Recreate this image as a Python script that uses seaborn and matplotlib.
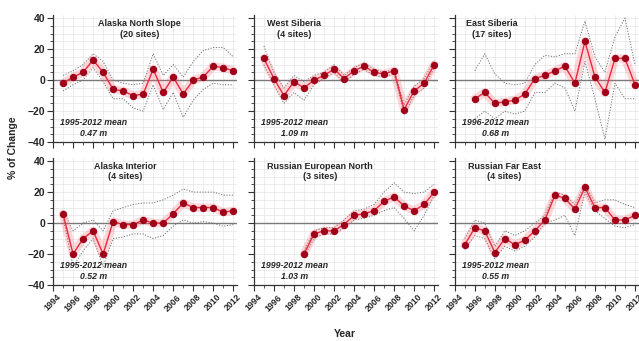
import matplotlib
matplotlib.use('Agg')
import matplotlib.pyplot as plt
from matplotlib.ticker import MultipleLocator
import seaborn as sns
import pandas as pd

# ---- data (percent change of active layer thickness) ----
titles = ['Alaska North Slope\n(20 sites)', 'West Siberia\n(4 sites)', 'East Siberia\n(17 sites)',
          'Alaska Interior\n(4 sites)', 'Russian European North\n(3 sites)', 'Russian Far East\n(4 sites)']
notes = ['1995-2012 mean\n0.47 m', '1995-2012 mean\n1.09 m', '1996-2012 mean\n0.68 m',
         '1995-2012 mean\n0.52 m', '1999-2012 mean\n1.03 m', '1995-2012 mean\n0.55 m']
first_year = [1995, 1995, 1996, 1995, 1999, 1995]

ans_mean = [-2, 2, 5, 13, 5, -6, -7, -10, -9, 7, -8, 2, -9, 0, 2, 9, 8, 6]
ans_up = [3, 6, 10, 17, 12, 0, -2, -3, -2, 17, 3, 10, 2, 12, 19, 21, 21, 15]
ans_lo = [-7, -3, 0, 8, -1, -12, -12, -18, -20, -3, -19, -8, -24, -13, -6, -2, -3, -3]

ws_mean = [14, 1, -10, -1, -5, 0, 3, 7, 1, 6, 9, 5, 4, 6, -19, -7, -2, 10]
ws_up = [22, 5, -5, 3, -1, 3, 5, 10, 3, 8, 11, 7, 5, 7, -16, -4, 1, 13]
ws_lo = [10, -3, -15, -8, -13, -3, 1, 5, -2, 4, 7, 3, 2, 4, -22, -10, -5, 8]

es_mean = [-12, -8, -15, -14, -13, -9, 1, 3, 6, 9, -2, 25, 2, -8, 14, 14, -3]
es_up = [6, 17, 4, -2, -3, -2, 10, 16, 15, 17, 17, 38, 15, 5, 28, 40, 10]
es_lo = [-25, -20, -25, -20, -22, -20, -8, -8, -2, -5, -20, 12, -12, -38, -2, -12, -12]

ai_mean = [6, -20, -10, -5, -20, 1, -1, -1, 2, 0, 0, 6, 13, 10, 10, 10, 7, 8]
ai_up = [8, -5, 0, 2, -5, 8, 10, 12, 13, 13, 15, 18, 22, 20, 20, 20, 18, 18]
ai_lo = [4, -28, -18, -10, -28, -10, -9, -7, -7, -10, -8, -2, 2, 0, 1, 0, -2, -1]

ren_mean = [-20, -7, -5, -5, -1, 5, 6, 8, 14, 17, 11, 8, 12, 20]
ren_up = [-18, -5, -3, -3, 2, 8, 9, 12, 20, 26, 20, 19, 20, 25]
ren_lo = [-22, -10, -7, -7, -3, 2, 3, 5, 8, 10, 3, -5, 5, 18]

rfe_mean = [-14, -3, -5, -19, -10, -14, -11, -5, 2, 18, 16, 9, 23, 10, 10, 2, 2, 5]
rfe_up = [-10, 2, 0, -15, -5, -8, -5, 0, 5, 20, 18, 12, 25, 13, 15, 15, 12, 10]
rfe_lo = [-17, -8, -10, -23, -15, -18, -15, -9, 0, 2, 5, -8, 20, 8, 3, -2, -3, -1]

means = [ans_mean, ws_mean, es_mean, ai_mean, ren_mean, rfe_mean]
uppers = [ans_up, ws_up, es_up, ai_up, ren_up, rfe_up]
lowers = [ans_lo, ws_lo, es_lo, ai_lo, ren_lo, rfe_lo]

year_ticks = list(range(1994, 2013, 2))

# ---- styling ----
sns.set_style('white')
plt.rcParams['font.family'] = ['Liberation Sans', 'DejaVu Sans']
plt.rcParams['font.weight'] = 'bold'

title_x = [0.47, 0.22, 0.20, 0.39, 0.36, 0.27]

fig, axes = plt.subplots(2, 3, figsize=(6.39, 3.41), dpi=100)
fig.subplots_adjust(left=0.083, right=1.0, top=0.956, bottom=0.164, wspace=0.09, hspace=0.125)

for i, ax in enumerate(axes.flat):
    yrs = list(range(first_year[i], 2013))
    df = pd.DataFrame({'year': yrs, 'mean': means[i], 'up': uppers[i], 'lo': lowers[i]})

    ax.axhline(0, color='#7a7a7a', lw=1.0, zorder=1)
    sns.lineplot(data=df, x='year', y='up', ax=ax, color='#707070', lw=0.7,
                 linestyle=(0, (1.2, 1.6)), zorder=2)
    sns.lineplot(data=df, x='year', y='lo', ax=ax, color='#707070', lw=0.7,
                 linestyle=(0, (1.2, 1.6)), zorder=2)
    # soft pink band behind the main line
    sns.lineplot(data=df, x='year', y='mean', ax=ax, color='#ff6070', lw=6, alpha=0.25,
                 solid_capstyle='round', zorder=3)
    sns.lineplot(data=df, x='year', y='mean', ax=ax, color='#e8283c', lw=1.0,
                 marker='o', markersize=4.5, markerfacecolor='#a00018',
                 markeredgecolor='#a00018', zorder=4)

    ax.set_xlim(1994, 2012.4)
    ax.set_ylim(-40, 42)
    ax.xaxis.set_major_locator(MultipleLocator(2))
    ax.xaxis.set_minor_locator(MultipleLocator(1))
    ax.yaxis.set_major_locator(MultipleLocator(20))
    ax.yaxis.set_minor_locator(MultipleLocator(5))
    ax.grid(True, which='both', color='#e4e4e4', lw=0.5, zorder=0)
    ax.set_axisbelow(True)
    for s in ['top', 'right']:
        ax.spines[s].set_visible(False)
    for s in ['left', 'bottom']:
        ax.spines[s].set_color('#333333')
        ax.spines[s].set_linewidth(0.9)
    ax.tick_params(which='major', direction='out', length=4, width=0.8, color='#333333',
                   left=True, bottom=True, labelsize=7.5, pad=1.5)
    ax.tick_params(which='minor', direction='out', length=2.5, width=0.6, color='#333333',
                   left=True, bottom=True)
    ax.set_xlabel('')
    ax.set_ylabel('')
    if i % 3 == 0:
        ax.set_yticks([-40, -20, 0, 20, 40])
    else:
        ax.set_yticklabels([])
    if i >= 3:
        ax.set_xticks(year_ticks)
        ax.set_xticklabels([str(y) for y in year_ticks], rotation=45, ha='center',
                           fontsize=6.3, fontweight='bold')
    else:
        ax.set_xticklabels([])

    ax.text(title_x[i], 0.965, titles[i], transform=ax.transAxes, ha='center', va='top',
            fontsize=6.5, fontweight='bold', linespacing=1.15)
    ax.text(0.22, 0.035, notes[i], transform=ax.transAxes, ha='center', va='bottom',
            fontsize=6.3, fontweight='bold', style='italic', linespacing=1.3)

fig.text(0.02, 0.566, '% of Change', rotation=90, ha='center', va='center',
         fontsize=7.5, fontweight='bold')
fig.text(0.54, 0.005, 'Year', ha='center', va='bottom', fontsize=7.5, fontweight='bold')

fig.savefig('out.png', dpi=100)
